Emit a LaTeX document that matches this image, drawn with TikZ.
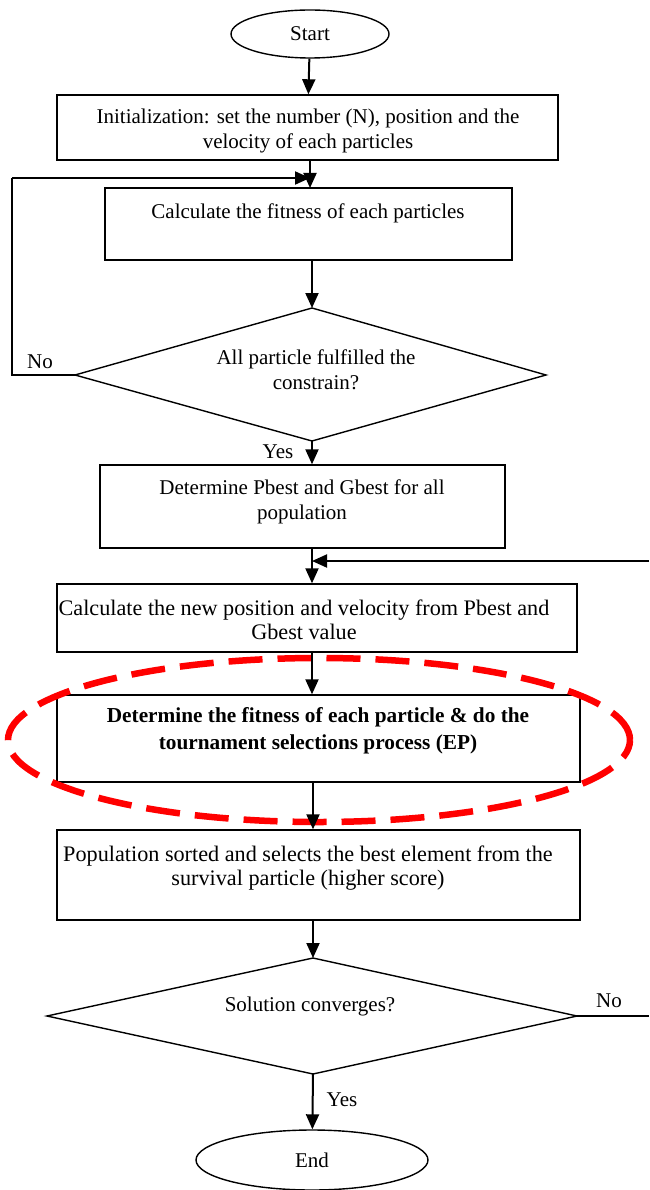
\documentclass[tikz,border=0pt]{standalone}
\usepackage{fontspec}
\setmainfont{Liberation Serif}
\usetikzlibrary{arrows.meta,shapes.geometric}
\begin{document}
\begin{tikzpicture}[x=1pt,y=-1pt,
  box/.style={draw,line width=1.4pt,rectangle,inner sep=0pt},
  txt/.style={font=\fontsize{21}{24.5}\selectfont,align=center},
  wide/.style={font=\fontsize{22.2}{24.5}\selectfont},
  arr/.style={line width=2pt,-{Triangle[length=15pt,width=13pt]}},
  ln/.style={line width=2pt}]
\useasboundingbox (0,0) rectangle (649,1190);
% terminals
\node[draw,ellipse,line width=1.4pt,minimum width=158pt,minimum height=48pt,inner sep=0pt,txt] (start) at (310,34) {Start};
\node[draw,ellipse,line width=1.4pt,minimum width=232pt,minimum height=60pt,inner sep=0pt,txt] (end) at (312,1160) {End};
% boxes
\node[box,minimum width=501pt,minimum height=65pt] (init) at (307.5,127.5) {};
\node[txt] at (308,131) {Initialization: set the number (N), position and the\\velocity of each particles};
\node[box,minimum width=407pt,minimum height=72pt] (calc) at (308.5,224) {};
\node[txt] at (308,213) {Calculate the fitness of each particles};
\node[box,minimum width=405pt,minimum height=83pt] (pb) at (302.5,506.5) {};
\node[txt] at (302,502) {Determine Pbest and Gbest for all\\population};
\node[box,minimum width=520pt,minimum height=68pt] (cn) at (317,618) {};
\node[txt,wide] at (304,620) {Calculate the new position and velocity from Pbest and\\Gbest value};
\node[box,minimum width=523pt,minimum height=87pt] (ep) at (318.5,738.5) {};
\node[txt,font=\fontsize{21.3}{27}\selectfont\bfseries] at (318,731) {Determine the fitness of each particle \& do the\\tournament selections process (EP)};
\node[box,minimum width=523pt,minimum height=90pt] (sort) at (318.5,875) {};
\node[txt,wide] at (308,868) {Population sorted and selects the best element from the\\survival particle (higher score)};
% diamonds
\coordinate (d1t) at (312,308); \coordinate (d1l) at (75,375);
\coordinate (d1b) at (312,441); \coordinate (d1r) at (546,375);
\draw[line width=1.4pt] (d1t) -- (d1r) -- (d1b) -- (d1l) -- cycle;
\node[txt] (d1) at (316,370) {All particle fulfilled the\\constrain?};
\coordinate (d2t) at (313,958); \coordinate (d2l) at (47,1016);
\coordinate (d2b) at (313,1074); \coordinate (d2r) at (577,1016);
\draw[line width=1.4pt] (d2t) -- (d2r) -- (d2b) -- (d2l) -- cycle;
\node[txt] (d2) at (310,1006) {Solution converges?};
% red dashed ellipse
\node[draw=red,ellipse,line width=6.5pt,dash pattern=on 34pt off 15pt,minimum width=622pt,minimum height=164pt,inner sep=0pt] (hl) at (319,740) {};
% connectors
\draw[arr] (start) -- (init);
\draw[arr] (init.south -| 310,0) -- (310,188);
\draw[arr] (calc.south -| 312,0) -- (d1t);
\coordinate (lp1) at (12,375); \coordinate (lp2) at (12,178); \coordinate (lp3) at (310,178);
\draw[ln] (d1l) -- (lp1) -- (lp2);
\draw[arr] (lp2) -- (lp3);
\node[txt,anchor=base] (no1) at (40,368) {No};
\draw[arr] (d1b) -- (pb.north -| d1b);
\node[txt,anchor=base] (yes1) at (278,458) {Yes};
\draw[arr] (pb.south -| 312,0) -- (cn.north -| 312,0);
\coordinate (rl) at (649,561); \coordinate (rl2) at (312,561);
\draw[arr] (rl) -- (rl2);
\draw[arr] (cn.south -| 312,0) -- (ep.north -| 312,0);
\draw[arr] (ep.south -| 313,0) -- (sort.north -| 313,0);
\draw[arr] (sort.south -| 313,0) -- (d2t);
\coordinate (nr) at (649,1016);
\draw[line width=1.4pt] (d2r) -- (nr);
\node[txt,anchor=base] (no2) at (609,1007) {No};
\draw[arr] (d2b) -- (end);
\node[txt,anchor=base] (yes2) at (342,1106) {Yes};
\end{tikzpicture}
\end{document}
